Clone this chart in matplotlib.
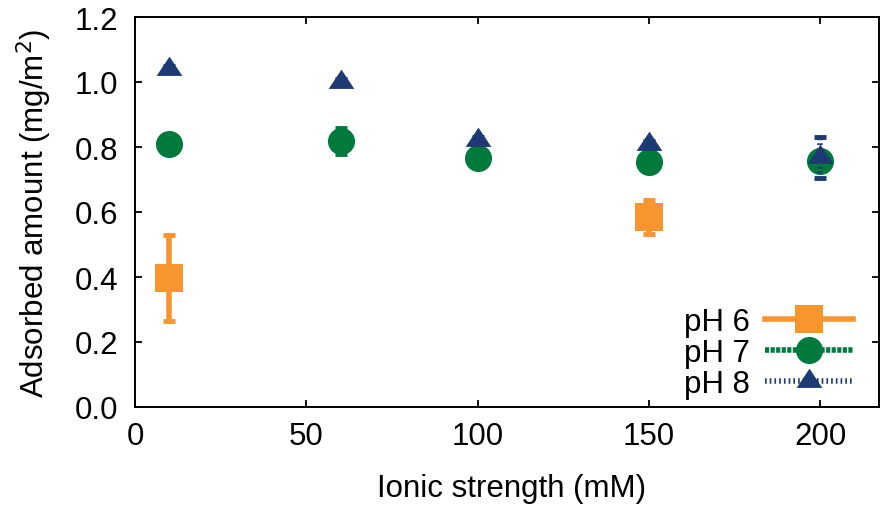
import matplotlib
matplotlib.use("Agg")
import matplotlib.pyplot as plt
from matplotlib.lines import Line2D
from matplotlib.ticker import FormatStrFormatter

plt.rcParams['font.family'] = ['Liberation Sans', 'DejaVu Sans']
plt.rcParams['lines.scale_dashes'] = False

# data
x_ph6 = [10, 150]
y_ph6 = [0.398, 0.585]
e_ph6 = [0.132, 0.052]

x_ph7 = [10, 60, 100, 150, 200]
y_ph7 = [0.809, 0.818, 0.765, 0.754, 0.758]
e_ph7 = [0.02, 0.04, 0.02, 0.02, 0.02]

x_ph8 = [10, 60, 100, 150, 200]
y_ph8 = [1.040, 1.000, 0.822, 0.809, 0.768]
e_ph8 = [0.01, 0.01, 0.01, 0.01, 0.063]

labels = ["pH 6", "pH 7", "pH 8"]
colors = ["#f7952f", "#00793c", "#1e3a72"]
xticks = [0, 50, 100, 150, 200]
yticks = [0.0, 0.2, 0.4, 0.6, 0.8, 1.0, 1.2]

tri = [(0, 4/3), (-4/3, -2/3), (4/3, -2/3), (0, 4/3)]
styles = [
    dict(marker='s', ms=19.5, ls='-'),
    dict(marker='o', ms=19.5, ls=(0, (3.0, 1.0))),
    dict(marker=tri, ms=18.5, ls=(0, (1.2, 2.2))),
]

FS = 22.5
fig = plt.figure(figsize=(8.8, 5.06), dpi=100)
ax = fig.add_axes([135/880, 98/506, 744/880, 390/506])

series = [(x_ph6, y_ph6, e_ph6), (x_ph7, y_ph7, e_ph7), (x_ph8, y_ph8, e_ph8)]
for i, ((xs, ys, es), st, c) in enumerate(zip(series, styles, colors)):
    cont = ax.errorbar(xs, ys, yerr=es, fmt='none', ecolor=c, elinewidth=4,
                       capsize=4, capthick=3.5, zorder=2 + i)
    for lc in cont[2]:
        lc.set_linestyle(st['ls'])
    ax.plot(xs, ys, ls='none', marker=st['marker'], ms=st['ms'], color=c,
            mec=c, mew=0, zorder=2.5 + i)

ax.set_xlim(0, 217.2)
ax.set_ylim(0, 1.2)
ax.set_xticks(xticks)
ax.set_yticks(yticks)
ax.yaxis.set_major_formatter(FormatStrFormatter('%.1f'))
ax.tick_params(direction='in', length=5, width=1.3, labelsize=FS,
               top=True, right=True)
ax.tick_params(axis='x', pad=10)
ax.tick_params(axis='y', pad=12)
for s in ax.spines.values():
    s.set_linewidth(1.4)

ax.set_xlabel("Ionic strength (mM)", fontsize=FS, labelpad=16)
ax.xaxis.label.set_x(0.506)
ax.set_ylabel("Adsorbed amount (mg/m$^2$)", fontsize=FS, labelpad=15)

handles = [Line2D([0], [0], color=c, lw=4, ls=st['ls'], marker=st['marker'],
                  ms=st['ms'], mew=0)
           for c, st in zip(colors, styles)]
leg = ax.legend(handles, labels, loc='lower right', bbox_to_anchor=(0.965, 0.02),
                frameon=False, markerfirst=False, fontsize=FS, handlelength=2.8,
                handletextpad=0.5, labelspacing=0.03, borderpad=0, borderaxespad=0)

fig.savefig("out.png", dpi=100)
